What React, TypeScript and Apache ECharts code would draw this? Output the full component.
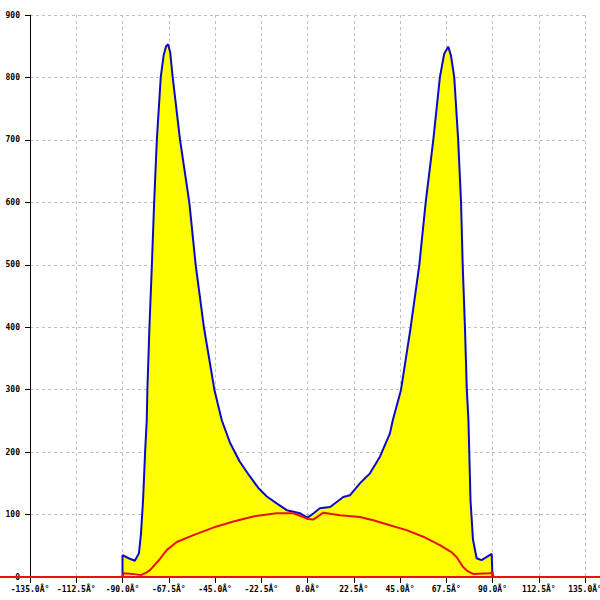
import React, { useEffect, useRef } from "react";
import * as echarts from "echarts";

// Angle (deg) / intensity pairs
const blueAngles = [-90, -90, -87, -84, -82, -81, -80, -79, -78.2, -77.9, -76.9, -75.7, -74.6, -73.3, -71.4, -70, -68.8, -67.8, -66.8, -65.6, -62, -57.5, -54.4, -50.4, -45.3, -41.7, -37.7, -33, -28, -24, -19.8, -15, -10.1, -3.6, 0, 3, 6, 11, 17.4, 20.7, 25.5, 30.4, 35.3, 40.1, 41.5, 45.5, 50.2, 54.4, 57.5, 61.2, 64.4, 66.5, 68.5, 69.8, 71.4, 73.3, 74.7, 75.5, 76.6, 77.5, 78.3, 79.3, 80.5, 82.3, 84.7, 89.6, 90];
const blueValues = [0, 35, 30, 26, 38, 70, 123, 200, 251, 300, 400, 500, 600, 700, 800, 835, 850, 853, 840, 801, 700, 600, 500, 400, 300, 251, 215, 185, 161, 143, 129, 118, 107, 102, 95, 102, 110, 112, 128, 131, 150, 166, 193, 230, 251, 300, 400, 500, 600, 700, 800, 838, 849, 835, 800, 700, 600, 500, 400, 300, 251, 123, 60, 30, 27, 37, 0];

const redAngles = [-90, -89.5, -85, -81, -78.5, -76.6, -72, -68.5, -63.6, -55.5, -44.2, -36, -26.4, -15, -6.9, -2, 0, 2.8, 7.7, 15.8, 25.5, 32, 40.1, 48.2, 56.3, 64.4, 70, 72.5, 75.7, 78, 80.6, 88.7, 90, 90.5];
const redValues = [0, 6, 5, 3, 7, 11, 28, 43, 56, 67, 81, 89, 97, 102, 102, 96, 93, 92, 103, 99, 96, 91, 83, 75, 64.5, 51, 40, 32, 16, 9, 5, 6, 7.5, 0];
// red baseline running across the whole picture
const baselineAngles = [-150, 150];
const baselineValues = [0, 0];

const xTicks = [-135, -112.5, -90, -67.5, -45, -22.5, 0, 22.5, 45, 67.5, 90, 112.5, 135];
const xTickLabels = ["-135.0Â°", "-112.5Â°", "-90.0Â°", "-67.5Â°", "-45.0Â°", "-22.5Â°", "0.0Â°", "22.5Â°", "45.0Â°", "67.5Â°", "90.0Â°", "112.5Â°", "135.0Â°"];
const yTicks = [0, 100, 200, 300, 400, 500, 600, 700, 800, 900];

export default function App() {
  const ref = useRef<HTMLDivElement>(null);
  useEffect(() => {
    if (!ref.current) return;
    const chart = echarts.init(ref.current, null, { renderer: "svg", width: 600, height: 600 });
    const font = { fontFamily: "DejaVu Sans Mono", fontSize: 8, fontWeight: "bold", color: "#000" };
    chart.setOption({
      animation: false,
      backgroundColor: "#fff",
      grid: [
        { left: 30, right: 15, top: 15, bottom: 23, outerBoundsMode: "none", containLabel: false },
        { left: 0, right: 0, top: 15, bottom: 23, outerBoundsMode: "none", containLabel: false },
      ],
      xAxis: [
        {
          type: "value",
          gridIndex: 0,
          min: xTicks[0],
          max: xTicks[xTicks.length - 1],
          interval: 22.5,
          axisLine: { onZero: false, lineStyle: { color: "#000", width: 1 } },
          axisTick: { length: 6, lineStyle: { color: "#000" } },
          axisLabel: {
            ...font,
            margin: 8,
            hideOverlap: false,
            formatter: (v: number) => {
              const i = xTicks.findIndex((t) => Math.abs(t - v) < 1e-6);
              return i >= 0 ? xTickLabels[i] : "";
            },
          },
          splitLine: { show: true, lineStyle: { color: "#c0c0c0", type: [3, 3], width: 1 } },
        },
        {
          type: "value",
          gridIndex: 1,
          min: baselineAngles[0],
          max: baselineAngles[1],
          show: false,
        },
      ],
      yAxis: [
        {
          type: "value",
          gridIndex: 0,
          min: yTicks[0],
          max: yTicks[yTicks.length - 1],
          interval: 100,
          axisLine: { show: true, onZero: false, lineStyle: { color: "#000", width: 1 } },
          axisTick: { show: true, length: 5, lineStyle: { color: "#000" } },
          axisLabel: { ...font, margin: 10 },
          splitLine: { show: true, lineStyle: { color: "#c0c0c0", type: [3, 3], width: 1 } },
        },
        {
          type: "value",
          gridIndex: 1,
          min: yTicks[0],
          max: yTicks[yTicks.length - 1],
          show: false,
        },
      ],
      series: [
        {
          type: "line",
          xAxisIndex: 1,
          yAxisIndex: 1,
          data: baselineAngles.map((a, i) => [a, baselineValues[i]]),
          showSymbol: false,
          symbol: "none",
          lineStyle: { color: "#e81010", width: 2 },
          z: 3,
        },
        {
          type: "line",
          data: blueAngles.map((a, i) => [a, blueValues[i]]),
          showSymbol: false,
          symbol: "none",
          lineStyle: { color: "#0a0ac8", width: 2 },
          areaStyle: { color: "#ffff00", opacity: 1 },
          z: 2,
        },
        {
          type: "line",
          data: redAngles.map((a, i) => [a, redValues[i]]),
          showSymbol: false,
          symbol: "none",
          lineStyle: { color: "#e81010", width: 2 },
          z: 3,
        },
      ],
    });
    return () => chart.dispose();
  }, []);
  return (
    <div
      ref={ref}
      style={{ position: "fixed", left: 0, top: 0, width: 600, height: 600, overflow: "hidden" }}
    />
  );
}
